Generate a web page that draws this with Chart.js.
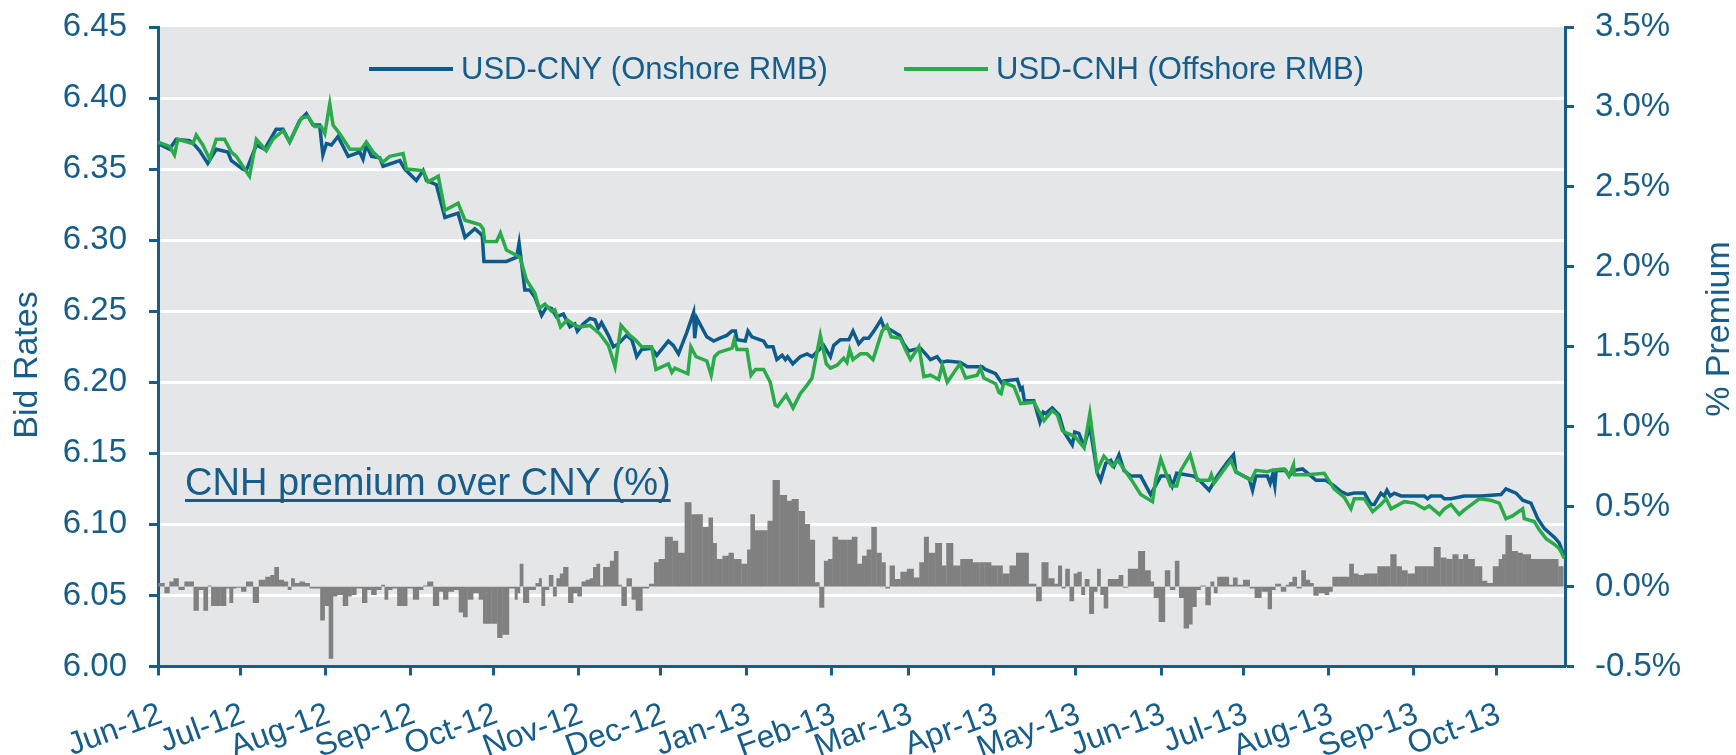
<!DOCTYPE html>
<html>
<head>
<meta charset="utf-8">
<title>USD-CNY vs USD-CNH</title>
<script src="https://cdn.jsdelivr.net/npm/chart.js@4.4.1/dist/chart.umd.min.js"></script>
<style>
  html, body { margin: 0; padding: 0; background: #ffffff; }
  #wrap { position: relative; width: 1736px; height: 755px; }
</style>
</head>
<body>
<div id="wrap"><canvas id="rmbChart"></canvas></div>
<script>
// 1. DATA (x values are days counted from 1 Jun 2012)
const monthLabels = ['Jun-12', 'Jul-12', 'Aug-12', 'Sep-12', 'Oct-12', 'Nov-12', 'Dec-12', 'Jan-13',
  'Feb-13', 'Mar-13', 'Apr-13', 'May-13', 'Jun-13', 'Jul-13', 'Aug-13', 'Sep-13', 'Oct-13'];
const lastDay = 512;

const rateTicks = [6.00, 6.05, 6.10, 6.15, 6.20, 6.25, 6.30, 6.35, 6.40, 6.45];
const premiumTicks = [-0.5, 0.0, 0.5, 1.0, 1.5, 2.0, 2.5, 3.0, 3.5];

const leftTitle = 'Bid Rates';
const rightTitle = '% Premium';
const noteText = 'CNH premium over CNY (%)';

// USD-CNY onshore
const cnyDays = [0, 4.2, 6.6, 11.5, 13.3, 15.1, 18.1, 21.2, 25.4, 26.7, 30.9, 32.1, 35.8, 38.8, 43.0, 45.5,
  47.9, 51.5, 54.0, 56.4, 58.8, 60.0, 61.3, 63.1, 65.5, 69.2, 73.4, 74.6, 75.8, 77.7, 80.7, 81.9, 88.0,
  89.8, 94.0, 96.5, 97.7, 101.3, 104.4, 109.2, 111.7, 115.3, 117.1, 118.0, 118.6, 126.8, 130.5, 131.4,
  133.5, 135.3, 137.1, 139.6, 141.4, 143.2, 145.0, 147.5, 149.9, 151.7, 152.6, 154.7, 157.2, 159.0,
  160.2, 161.4, 163.9, 165.7, 167.5, 170.5, 172.4, 173.2, 174.2, 176.0, 179.6, 181.5, 185.7, 187.5,
  189.4, 192.4, 194.9, 195.3, 196.1, 199.7, 202.2, 204.5, 207.0, 208.8, 210.1, 210.7, 213.7, 214.7,
  216.1, 220.4, 221.6, 223.8, 225.2, 227.1, 228.3, 229.1, 231.0, 233.7, 236.2, 238.0, 242.2, 244.7,
  245.9, 248.3, 251.4, 252.9, 255.0, 256.8, 258.6, 260.5, 263.1, 264.1, 266.5, 269.9, 271.4, 273.2,
  275.0, 277.4, 279.3, 281.1, 283.5, 285.0, 287.2, 292.0, 294.5, 299.9, 301.1, 304.8, 307.2, 307.8,
  312.7, 313.9, 314.5, 315.3, 318.7, 320.9, 322.1, 323.0, 325.4, 327.9, 329.7, 332.7, 333.6, 335.1,
  337.0, 339.1, 341.8, 343.0, 344.9, 346.7, 347.9, 349.7, 351.5, 354.0, 357.6, 361.2, 364.9, 367.9,
  369.1, 370.7, 377.0, 379.5, 382.5, 385.5, 389.2, 391.4, 392.2, 397.1, 398.3, 399.5, 403.7, 404.7,
  405.6, 406.4, 406.9, 410.4, 411.6, 413.5, 416.5, 421.4, 425.0, 428.0, 430.5, 432.9, 435.3, 439.0,
  441.4, 442.6, 445.0, 446.2, 447.2, 448.4, 449.9, 452.3, 460.8, 462.0, 463.2, 466.9, 468.1, 470.5,
  475.3, 481.4, 488.7, 490.5, 494.2, 496.6, 499.6, 502.1, 504.5, 508.1, 509.9, 511.8];
const cnyRates = [6.368, 6.364, 6.371, 6.370, 6.367, 6.363, 6.354, 6.364, 6.362, 6.356, 6.350, 6.349, 6.367,
  6.364, 6.378, 6.378, 6.369, 6.384, 6.389, 6.381, 6.381, 6.360, 6.368, 6.367, 6.373, 6.359, 6.362, 6.357,
  6.367, 6.359, 6.358, 6.352, 6.356, 6.350, 6.342, 6.349, 6.342, 6.339, 6.316, 6.319, 6.302, 6.308, 6.305,
  6.303, 6.285, 6.285, 6.288, 6.298, 6.265, 6.265, 6.260, 6.247, 6.253, 6.252, 6.246, 6.248, 6.239, 6.241,
  6.236, 6.241, 6.245, 6.244, 6.238, 6.242, 6.233, 6.225, 6.227, 6.233, 6.230, 6.225, 6.218, 6.223, 6.224,
  6.219, 6.229, 6.226, 6.220, 6.235, 6.249, 6.231, 6.245, 6.232, 6.229, 6.231, 6.233, 6.236, 6.236, 6.230,
  6.229, 6.236, 6.232, 6.229, 6.225, 6.225, 6.216, 6.219, 6.216, 6.218, 6.213, 6.218, 6.220, 6.218, 6.226,
  6.218, 6.226, 6.230, 6.230, 6.236, 6.227, 6.231, 6.231, 6.236, 6.244, 6.239, 6.237, 6.233, 6.227, 6.222,
  6.223, 6.224, 6.220, 6.216, 6.218, 6.214, 6.215, 6.214, 6.211, 6.211, 6.209, 6.206, 6.199, 6.201, 6.202,
  6.195, 6.196, 6.187, 6.187, 6.172, 6.179, 6.178, 6.182, 6.177, 6.165, 6.156, 6.165, 6.164, 6.155, 6.169,
  6.136, 6.131, 6.143, 6.145, 6.141, 6.149, 6.138, 6.134, 6.134, 6.121, 6.134, 6.134, 6.127, 6.136, 6.134,
  6.130, 6.124, 6.134, 6.144, 6.149, 6.137, 6.132, 6.124, 6.134, 6.134, 6.129, 6.135, 6.127, 6.138, 6.138,
  6.134, 6.138, 6.139, 6.131, 6.131, 6.127, 6.123, 6.121, 6.122, 6.122, 6.114, 6.114, 6.122, 6.120, 6.124,
  6.120, 6.122, 6.120, 6.120, 6.118, 6.120, 6.120, 6.118, 6.118, 6.120, 6.120, 6.121, 6.125, 6.122, 6.117,
  6.115, 6.104, 6.097, 6.091, 6.087, 6.077];

// USD-CNH offshore
const cnhDays = [0, 4.2, 6.0, 7.2, 12.7, 13.9, 16.3, 18.8, 21.2, 24.2, 26.7, 28.5, 33.3, 35.8, 39.4, 41.8,
  45.5, 47.9, 52.2, 54.6, 57.0, 59.4, 60.7, 62.5, 63.7, 66.1, 69.8, 74.0, 75.8, 78.3, 81.9, 84.3, 89.2,
  90.4, 96.5, 98.3, 102.0, 104.4, 109.2, 111.7, 117.1, 118.3, 118.9, 123.2, 124.6, 126.8, 131.7, 134.1,
  137.1, 138.7, 140.8, 143.2, 144.4, 146.5, 148.9, 151.7, 153.5, 157.2, 160.8, 163.9, 166.3, 168.5,
  171.7, 173.6, 176.0, 179.6, 181.2, 185.7, 187.0, 188.1, 192.8, 193.9, 195.8, 199.7, 201.3, 202.5,
  204.0, 208.9, 209.7, 210.7, 214.3, 215.8, 217.4, 220.4, 222.8, 224.6, 225.5, 228.6, 231.1, 233.7,
  236.2, 238.0, 241.0, 243.2, 244.7, 247.1, 249.5, 250.7, 251.7, 252.9, 255.6, 258.0, 260.2, 263.5,
  265.3, 266.8, 270.2, 272.0, 273.8, 276.9, 278.7, 281.1, 284.1, 285.4, 287.2, 291.8, 293.9, 298.1,
  299.3, 300.5, 304.8, 306.0, 306.8, 307.8, 311.5, 313.9, 318.7, 322.4, 325.4, 327.3, 329.1, 330.9,
  333.6, 337.0, 339.1, 341.8, 344.2, 347.3, 349.3, 354.0, 357.6, 361.9, 363.1, 364.9, 368.5, 370.7,
  372.2, 375.6, 378.2, 382.5, 383.3, 384.3, 390.4, 392.2, 397.7, 399.5, 403.7, 405.0, 409.8, 411.6,
  413.2, 413.5, 418.3, 424.4, 428.0, 431.7, 434.1, 435.3, 439.0, 442.0, 445.0, 446.9, 448.7, 453.5,
  457.2, 460.8, 462.6, 466.3, 468.1, 470.5, 473.5, 475.3, 480.8, 485.0, 488.1, 490.5, 492.9, 496.6,
  497.2, 500.8, 502.7, 505.1, 508.1, 509.9, 511.8];
const cnhRates = [6.369, 6.366, 6.360, 6.371, 6.368, 6.374, 6.367, 6.357, 6.371, 6.371, 6.362, 6.359, 6.345,
  6.371, 6.363, 6.371, 6.377, 6.369, 6.386, 6.387, 6.380, 6.380, 6.375, 6.396, 6.381, 6.375, 6.364, 6.364,
  6.369, 6.362, 6.355, 6.359, 6.361, 6.350, 6.349, 6.341, 6.345, 6.321, 6.326, 6.314, 6.311, 6.308, 6.299,
  6.299, 6.305, 6.293, 6.288, 6.272, 6.263, 6.252, 6.255, 6.250, 6.251, 6.239, 6.244, 6.240, 6.239, 6.240,
  6.234, 6.226, 6.211, 6.240, 6.233, 6.230, 6.225, 6.225, 6.209, 6.213, 6.207, 6.210, 6.206, 6.225, 6.218,
  6.215, 6.205, 6.218, 6.221, 6.224, 6.230, 6.223, 6.223, 6.205, 6.209, 6.209, 6.200, 6.184, 6.183, 6.191,
  6.182, 6.192, 6.198, 6.203, 6.233, 6.213, 6.210, 6.212, 6.217, 6.214, 6.223, 6.216, 6.220, 6.220, 6.216,
  6.236, 6.240, 6.232, 6.231, 6.223, 6.216, 6.225, 6.204, 6.205, 6.202, 6.212, 6.200, 6.213, 6.203, 6.205,
  6.210, 6.203, 6.199, 6.193, 6.192, 6.200, 6.197, 6.185, 6.186, 6.173, 6.180, 6.177, 6.166, 6.164, 6.162,
  6.154, 6.178, 6.138, 6.148, 6.141, 6.145, 6.132, 6.121, 6.116, 6.132, 6.146, 6.127, 6.127, 6.138, 6.149,
  6.131, 6.131, 6.135, 6.129, 6.145, 6.137, 6.131, 6.138, 6.137, 6.138, 6.139, 6.134, 6.142, 6.135, 6.135,
  6.136, 6.125, 6.119, 6.111, 6.118, 6.118, 6.109, 6.114, 6.118, 6.111, 6.116, 6.115, 6.111, 6.113, 6.107,
  6.111, 6.114, 6.107, 6.110, 6.118, 6.117, 6.115, 6.104, 6.106, 6.111, 6.104, 6.102, 6.096, 6.090, 6.086,
  6.083, 6.076];

// CNH premium over CNY, in %
const premiumDays = [1.2, 3.6, 4.8, 6.6, 8.4, 10.9, 12.1, 13.9, 15.7, 17.5, 18.8, 20.0, 21.2, 24.2, 25.4,
  26.7, 27.9, 29.1, 31.5, 32.7, 33.9, 35.2, 38.2, 40.0, 41.8, 43.0, 44.9, 46.7, 47.9, 49.1, 50.3, 52.8,
  54.0, 56.4, 58.2, 60.0, 61.3, 63.1, 64.3, 66.1, 68.5, 69.8, 71.0, 73.4, 75.2, 77.0, 78.3, 80.7, 81.9,
  83.1, 84.3, 86.2, 88.0, 89.8, 91.6, 94.0, 95.9, 97.1, 98.9, 101.3, 103.2, 104.4, 106.8, 108.6, 110.4,
  111.7, 113.5, 115.9, 117.7, 119.0, 120.2, 122.6, 124.4, 126.2, 129.3, 130.5, 131.1, 132.3, 133.5,
  136.5, 138.4, 139.0, 140.2, 141.4, 143.2, 144.4, 145.7, 146.9, 148.1, 150.5, 151.7, 153.6, 154.8,
  156.6, 157.8, 159.0, 160.2, 161.4, 162.7, 163.9, 165.1, 166.9, 168.1, 169.3, 171.8, 173.0, 174.8,
  177.8, 179.6, 181.5, 182.9, 186.1, 188.5, 190.0, 193.4, 194.8, 196.7, 199.7, 201.1, 202.7, 203.9,
  207.0, 208.4, 210.6, 214.0, 214.9, 216.4, 217.9, 220.9, 222.8, 224.6, 227.9, 229.8, 231.5, 234.7,
  236.1, 238.3, 239.8, 241.6, 243.2, 244.6, 246.4, 248.5, 250.1, 251.7, 253.4, 255.5, 257.0, 258.9,
  260.4, 262.6, 264.0, 265.5, 267.1, 269.1, 271.3, 273.8, 276.2, 278.0, 279.6, 281.3, 284.4, 286.1,
  287.7, 291.0, 293.0, 295.0, 298.0, 299.9, 301.7, 304.7, 306.3, 308.4, 311.4, 313.2, 315.0, 318.7,
  320.5, 322.6, 325.4, 327.0, 328.2, 329.6, 330.8, 332.7, 333.9, 335.4, 336.7, 337.9, 339.9, 341.2,
  342.4, 343.6, 344.8, 346.6, 349.0, 350.3, 352.1, 353.9, 355.7, 357.7, 360.6, 361.8, 363.0, 365.4,
  367.5, 369.1, 371.1, 372.1, 374.5, 375.8, 377.0, 378.8, 380.0, 382.4, 383.7, 384.9, 386.1, 389.1,
  390.3, 392.2, 393.4, 396.4, 398.2, 400.0, 403.1, 404.7, 405.9, 407.3, 410.0, 411.0, 412.2, 413.6,
  415.2, 417.0, 418.3, 420.1, 420.9, 423.7, 425.5, 426.8, 428.0, 431.0, 432.8, 434.3, 435.9, 437.7,
  440.1, 442.5, 445.0, 447.4, 449.6, 451.7, 453.5, 455.9, 458.9, 460.8, 463.0, 465.6, 467.8, 469.9,
  472.3, 474.1, 475.9, 477.5, 480.8, 482.9, 484.4, 487.2, 488.7, 489.7, 491.1, 494.2, 495.4, 497.8,
  501.4, 505.1, 508.7, 510.5];
const premiumValues = [0.02, -0.04, 0.03, 0.05, -0.02, 0.03, 0.03, -0.15, -0.02, -0.15, 0.005, -0.12, -0.12,
  -0.12, -0.01, -0.10, -0.01, -0.005, -0.03, 0.03, 0.03, -0.10, 0.04, 0.06, 0.07, 0.12, 0.04, 0.03, -0.02,
  0.05, 0.02, 0.03, 0.02, -0.01, -0.01, -0.21, -0.12, -0.45, -0.06, -0.05, -0.12, -0.06, -0.05, -0.01, -0.10,
  -0.02, -0.05, -0.02, 0.01, -0.08, -0.02, -0.01, -0.12, -0.12, -0.01, -0.08, -0.02, 0.005, 0.03, -0.12,
  -0.03, -0.08, -0.03, -0.02, -0.16, -0.19, -0.08, -0.04, -0.08, -0.23, -0.23, -0.23, -0.32, -0.30, -0.01,
  -0.08, -0.04, 0.14, -0.10, -0.02, 0.02, 0.05, -0.12, -0.02, 0.07, -0.06, 0.05, 0.08, 0.12, -0.10, -0.04,
  -0.06, 0.03, 0.04, 0.05, 0.12, 0.14, 0.005, 0.12, 0.12, 0.16, 0.22, 0.01, -0.12, 0.05, -0.08, -0.15,
  -0.01, 0.015, 0.15, 0.17, 0.31, 0.285, 0.21, 0.525, 0.45, 0.45, 0.37, 0.43, 0.27, 0.17, 0.19, 0.21, 0.17,
  0.14, 0.23, 0.45, 0.35, 0.35, 0.41, 0.665, 0.57, 0.535, 0.545, 0.47, 0.39, 0.29, 0.025, -0.13, 0.16, 0.17,
  0.31, 0.29, 0.29, 0.29, 0.31, 0.14, 0.19, 0.23, 0.37, 0.21, 0.15, -0.01, 0.13, 0.045, 0.09, 0.11, 0.055,
  0.15, 0.31, 0.21, 0.27, 0.13, 0.27, 0.13, 0.17, 0.17, 0.15, 0.15, 0.15, 0.13, 0.13, 0.08, 0.13, 0.21, 0.21,
  0.015, -0.09, 0.15, 0.05, 0.015, 0.13, -0.01, 0.11, -0.09, 0.08, 0.09, -0.05, 0.045, -0.17, -0.03, 0.11,
  -0.05, -0.135, 0.045, 0.045, 0.07, -0.005, 0.11, 0.11, 0.22, 0.10, 0.03, -0.07, -0.22, 0.10, -0.02, 0.16,
  -0.07, -0.26, -0.235, -0.125, -0.02, 0.005, -0.115, 0.03, -0.04, 0.06, 0.06, 0.01, 0.055, 0.01, 0.04,
  -0.01, -0.07, -0.03, -0.14, -0.02, 0.015, -0.03, 0.01, 0.027, 0.06, -0.01, 0.10, 0.04, 0.02, -0.056,
  -0.04, -0.05, -0.03, 0.06, 0.06, 0.06, 0.14, 0.08, 0.07, 0.08, 0.08, 0.125, 0.125, 0.20, 0.125, 0.10,
  0.08, 0.125, 0.125, 0.125, 0.245, 0.18, 0.17, 0.20, 0.17, 0.20, 0.17, 0.125, 0.035, 0.02, 0.125, 0.17,
  0.20, 0.32, 0.22, 0.21, 0.20, 0.17, 0.17, 0.17, 0.125];

// 2. LOOK
const textBlue = '#165d8b';
const cnyColor = '#0d5b8c';
const cnhColor = '#2aab49';
const barGrey = '#808080';
const plotGrey = '#e5e6e8';
const fontFamily = "'Liberation Sans', Arial, sans-serif";

Chart.defaults.font.family = fontFamily;
Chart.defaults.color = textBlue;

// month ticks sit on the 1st of each month
const startMs = Date.UTC(2012, 5, 1);
const monthTicks = monthLabels.map((label, i) => ({
  value: Math.round((Date.UTC(2012, 5 + i, 1) - startMs) / 86400000),
  label: label
}));

const toPoints = (xs, ys) => xs.map((x, i) => ({ x: x, y: ys[i] }));

// keep the y axes from pushing the plot down (tick label padding)
const fitSide = (width) => (scale) => {
  scale.width = width;
  scale.paddingTop = 0;
  scale.paddingBottom = 0;
};

// grey plot background
const plotBackground = {
  id: 'plotBackground',
  beforeDraw(chart) {
    const { ctx, chartArea } = chart;
    ctx.save();
    ctx.fillStyle = plotGrey;
    ctx.fillRect(chartArea.left, chartArea.top, chartArea.width, chartArea.height);
    ctx.restore();
  }
};

// legend sits inside the plot, two items on one row
const insideLegend = {
  id: 'insideLegend',
  afterDatasetsDraw(chart) {
    const { ctx, chartArea } = chart;
    const y = chartArea.top + 42;
    const items = [
      { ds: chart.data.datasets[0], x: chartArea.left + 211 },
      { ds: chart.data.datasets[1], x: chartArea.left + 746 }
    ];
    ctx.save();
    ctx.font = '31px ' + fontFamily;
    ctx.textBaseline = 'middle';
    items.forEach(item => {
      ctx.fillStyle = item.ds.borderColor;
      ctx.fillRect(item.x, y - 2, 84, 4);
      ctx.fillStyle = textBlue;
      ctx.fillText(item.ds.label, item.x + 92, y + 1);
    });
    ctx.restore();
  }
};

// underlined note above the premium bars
const premiumNote = {
  id: 'premiumNote',
  afterDatasetsDraw(chart) {
    const { ctx, chartArea } = chart;
    const x = chartArea.left + 27;
    const y = chartArea.top + 468;
    ctx.save();
    ctx.font = '38px ' + fontFamily;
    ctx.fillStyle = textBlue;
    ctx.textBaseline = 'alphabetic';
    ctx.fillText(noteText, x, y);
    const w = ctx.measureText(noteText).width;
    ctx.fillRect(x, y + 4, w, 3);
    ctx.restore();
  }
};

// both axis titles read bottom to top
const axisTitles = {
  id: 'axisTitles',
  afterDraw(chart) {
    const { ctx, chartArea } = chart;
    const titles = [
      { text: leftTitle, x: chartArea.left - 130, y: chartArea.top + 338 },
      { text: rightTitle, x: chartArea.right + 155, y: chartArea.top + 302 }
    ];
    ctx.save();
    ctx.font = '34px ' + fontFamily;
    ctx.fillStyle = textBlue;
    ctx.textAlign = 'center';
    ctx.textBaseline = 'middle';
    titles.forEach(t => {
      ctx.save();
      ctx.translate(t.x, t.y);
      ctx.rotate(-Math.PI / 2);
      ctx.fillText(t.text, 0, 0);
      ctx.restore();
    });
    ctx.restore();
  }
};

// 3. CHART
const rmbChart = new Chart(document.getElementById('rmbChart'), {
  type: 'line',
  data: {
    datasets: [
      {
        label: 'USD-CNY (Onshore RMB)',
        data: toPoints(cnyDays, cnyRates),
        borderColor: cnyColor,
        backgroundColor: cnyColor,
        borderWidth: 3.5,
        pointRadius: 0,
        tension: 0,
        yAxisID: 'y',
        order: 2
      },
      {
        label: 'USD-CNH (Offshore RMB)',
        data: toPoints(cnhDays, cnhRates),
        borderColor: cnhColor,
        backgroundColor: cnhColor,
        borderWidth: 3.5,
        pointRadius: 0,
        tension: 0,
        yAxisID: 'y',
        order: 1
      },
      {
        type: 'bar',
        label: noteText,
        data: toPoints(premiumDays, premiumValues),
        backgroundColor: barGrey,
        borderWidth: 0,
        barThickness: 'flex',
        categoryPercentage: 1,
        barPercentage: 0.95,
        yAxisID: 'y1',
        order: 3
      }
    ]
  },
  options: {
    responsive: true,
    maintainAspectRatio: false,
    animation: false,
    layout: { padding: { top: 27, left: 0, right: 0, bottom: 0 } },
    plugins: {
      tooltip: { enabled: false },
      legend: { display: false }
    },
    scales: {
      x: {
        type: 'linear',
        min: 0,
        max: lastDay,
        offset: false,
        afterBuildTicks: (scale) => { scale.ticks = monthTicks.map(t => ({ value: t.value })); },
        afterFit: (scale) => { scale.height = 88.5; },
        border: { color: textBlue, width: 3 },
        grid: { drawOnChartArea: false, offset: false, tickLength: 9, tickColor: textBlue, tickWidth: 3 },
        ticks: {
          autoSkip: false,
          minRotation: 20,
          maxRotation: 20,
          padding: 20,
          labelOffset: 3,
          color: textBlue,
          font: { size: 32 },
          callback: (value) => {
            const t = monthTicks.find(m => m.value === value);
            return t ? t.label : '';
          }
        }
      },
      y: {
        position: 'left',
        min: 6.0,
        max: 6.45,
        afterBuildTicks: (scale) => { scale.ticks = rateTicks.map(v => ({ value: v })); },
        afterFit: fitSide(158),
        border: { color: textBlue, width: 3 },
        grid: {
          color: (ctx) => (ctx.tick && (ctx.tick.value === 6.0 || ctx.tick.value === 6.45)) ? 'rgba(0,0,0,0)' : '#ffffff',
          lineWidth: 3,
          tickLength: 9,
          tickColor: textBlue,
          tickWidth: 3
        },
        ticks: {
          padding: 22,
          color: textBlue,
          font: { size: 33 },
          callback: (value) => Number(value).toFixed(2)
        }
      },
      y1: {
        position: 'right',
        min: -0.5,
        max: 3.5,
        afterBuildTicks: (scale) => { scale.ticks = premiumTicks.map(v => ({ value: v })); },
        afterFit: fitSide(171),
        border: { color: textBlue, width: 3 },
        grid: { drawOnChartArea: false, tickLength: 9, tickColor: textBlue, tickWidth: 3 },
        ticks: {
          padding: 21,
          color: textBlue,
          font: { size: 33 },
          callback: (value) => Number(value).toFixed(1) + '%'
        }
      }
    }
  },
  plugins: [plotBackground, insideLegend, premiumNote, axisTitles]
});
</script>
</body>
</html>
